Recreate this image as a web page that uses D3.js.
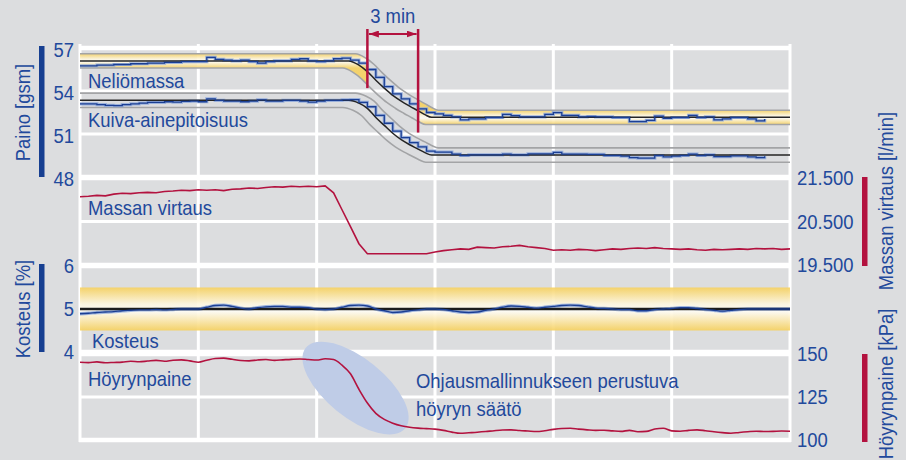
<!DOCTYPE html>
<html>
<head>
<meta charset="utf-8">
<script src="https://cdn.jsdelivr.net/npm/d3@7"></script>
<style>
  body { margin: 0; background: #dcdddf; }
  svg { display: block; }
  text { font-family: "Liberation Sans", Arial, sans-serif; }
</style>
</head>
<body>
<svg id="chart" width="906" height="460"></svg>
<script>
/// DATA ///
// sample times in minutes, one every half minute
var sampleMinutes = d3.range(0, 42.5, 0.5);

// Neliömassa (gsm), measured, t = 0 .. 40.5
var neliomassa = [55.75,55.75,55.8,55.8,55.85,55.85,55.9,55.9,55.95,55.95,56.0,56.0,56.05,56.05,
  56.05,56.35,56.2,56.15,56.1,56.15,56.05,55.95,56.05,56.1,56.1,56.2,56.25,56.1,56.05,56.1,56.25,56.3,
  56.15,55.95,55.5,54.95,54.3,53.8,53.45,53.1,52.75,52.5,52.4,
  52.3,52.2,51.98,52.05,52.05,52.15,52.15,52.37,52.28,52.2,52.2,52.2,52.37,52.49,52.3,52.3,52.2,52.22,
  52.2,52.2,52.15,52.15,51.86,51.86,51.95,52.25,52.1,52.15,52.15,52.3,52.15,52.2,51.98,52.05,52.15,
  52.15,52.05,51.92,52.05];

// Kuiva-ainepitoisuus (gsm), measured, t = 0 .. 40.5
var kuiva = [53.1,53.1,53.05,53.0,52.98,53.05,53.1,53.15,53.2,53.2,53.25,53.22,53.28,53.3,53.25,53.45,
  53.35,53.3,53.3,53.25,53.3,53.38,53.3,53.3,53.35,53.35,53.3,53.22,53.3,53.35,53.35,53.38,
  53.4,53.2,52.9,52.3,51.75,51.2,50.75,50.4,50.1,49.8,49.74,
  49.74,49.6,49.5,49.55,49.55,49.55,49.55,49.6,49.55,49.55,49.62,49.62,49.62,49.72,49.6,49.6,49.6,
  49.58,49.58,49.5,49.5,49.45,49.35,49.32,49.32,49.5,49.4,49.45,49.5,49.6,49.5,49.55,49.42,49.42,
  49.48,49.48,49.4,49.35,49.45];

// target curves (black lines)
var targetMinutes = [0, 15.9, 16.5, 17, 17.5, 18, 18.5, 19, 19.5, 20, 20.4, 20.8, 42];
var neliomassaTarget = [56.1, 56.1, 55.8, 55.35, 54.75, 54.2, 53.7, 53.3, 52.95, 52.62, 52.35, 52.16, 52.16];
var kuivaTarget = [53.35, 53.35, 53.15, 52.79, 52.15, 51.6, 51.05, 50.6, 50.25, 49.95, 49.7, 49.53, 49.53];
var tolerance = 0.5;             // gsm, half width of the band
var envelopeLag = [0.4, -0.35];  // minutes, upper / lower envelope shift

// Massan virtaus (l/min), t = 0 .. 42
var virtaus = [21070,21080,21100,21090,21130,21150,21140,21160,21170,21160,21190,21200,21220,21210,
  21230,21220,21230,21210,21240,21250,21270,21260,21280,21300,21290,21310,21300,21310,21300,21320,
  21160,20770,20380,19990,19760,19760,19760,19760,19760,19760,19760,19760,
  19800,19830,19850,19870,19860,19910,19900,19890,19920,19930,19950,19920,19900,19880,19840,19850,
  19840,19860,19850,19830,19850,19870,19860,19880,19890,19880,19900,19880,19870,19860,19870,19850,
  19840,19860,19850,19860,19870,19860,19880,19870,19880,19860,19870];

// Kosteus (%), t = 0 .. 42
var kosteus = [4.89,4.90,4.92,4.93,4.94,4.96,4.97,4.98,4.98,4.99,4.98,4.99,5.00,5.00,5.00,5.04,5.08,
  5.09,5.06,5.02,5.00,5.03,5.05,5.06,5.06,5.04,5.04,5.03,5.00,4.99,5.00,5.04,5.08,5.09,5.07,5.00,
  4.96,4.92,4.93,4.96,4.98,5.00,5.00,4.99,4.96,4.93,4.92,4.93,4.97,5.00,5.04,5.07,5.06,5.04,5.02,
  5.04,5.06,5.08,5.09,5.08,5.05,5.02,5.01,5.00,4.99,4.99,4.96,4.96,4.99,5.00,5.01,5.03,5.03,5.01,
  4.99,4.97,4.95,4.97,4.99,5.00,5.00,5.00,5.00,5.00,5.00];
var kosteusTarget = 5;
var kosteusTolerance = 0.5;

// Höyrynpaine (kPa), t = 0 .. 42
var paine = [145.2,145.0,145.4,144.9,145.1,145.3,145.8,145.5,145.9,146.3,145.8,146.4,146.6,146.0,
  145.2,146.4,147.4,147.6,146.9,146.2,146.0,146.5,146.8,146.3,146.6,146.9,147.1,146.8,146.5,147.2,
  146.8,143.5,138.5,129.5,121.5,115.5,112.0,109.8,108.3,107.4,106.9,106.6,106.3,105.6,104.6,103.9,
  104.2,104.5,104.9,105.4,105.8,105.9,105.5,105.2,104.9,105.4,106.2,106.7,106.8,106.3,105.9,105.6,
  105.7,105.3,105.0,105.6,104.8,105.0,106.4,106.8,105.3,105.1,105.6,105.9,105.4,104.8,104.3,103.9,
  104.4,104.8,105.1,104.9,105.0,105.2,105.1];

// ticks
var timeTicks = [0, 7, 14, 21, 28, 35, 42];
var painoTicks = [48, 51, 54, 57];
var virtausTicks = [19500, 20500, 21500];
var kosteusTicks = [4, 5, 6];
var paineTicks = [100, 125, 150];

// annotations
var stepWindow = [17, 20];           // "3 min"
var stepMarkerEnds = [54.2, 51.1];   // gsm where the marker lines stop
var steamNote = { minute: 16.3, kPa: 130.2 };

/// SETUP ///
var BLUE = "#22499c";
var BAR_BLUE = "#173f91";
var RED = "#b3123f";
var LINE_BLUE = "#1b3f94";
var HALO_BLUE = "#8ea8da";
var GOLD = "#f6d160";

var svg = d3.select("#chart");
var fi = d3.formatLocale({ decimal: ",", thousands: ".", grouping: [3], currency: ["", ""] });

var x = d3.scaleLinear().domain([0, 42]).range([80, 790]);
var yPaino = d3.scaleLinear().domain([48, 57]).range([177, 48]);
var yVirtaus = d3.scaleLinear().domain([19500, 21500]).range([265, 178]);
var yKosteus = d3.scaleLinear().domain([4, 6]).range([352, 266]);
var yPaine = d3.scaleLinear().domain([100, 150]).range([440, 354]);

var defs = svg.append("defs");

// vertical gradient: gold - white - gold
function bandGradient(id, y1, y2) {
  var g = defs.append("linearGradient").attr("id", id)
    .attr("gradientUnits", "userSpaceOnUse")
    .attr("x1", 0).attr("x2", 0).attr("y1", y1).attr("y2", y2);
  g.append("stop").attr("offset", "0%").attr("stop-color", GOLD);
  g.append("stop").attr("offset", "38%").attr("stop-color", "#fdf6df");
  g.append("stop").attr("offset", "55%").attr("stop-color", "#fffdf6");
  g.append("stop").attr("offset", "100%").attr("stop-color", GOLD);
}
var last = neliomassaTarget.length - 1;
bandGradient("bandBefore", yPaino(neliomassaTarget[0] + tolerance), yPaino(neliomassaTarget[0] - tolerance));
bandGradient("bandAfter", yPaino(neliomassaTarget[last] + tolerance), yPaino(neliomassaTarget[last] - tolerance));
bandGradient("bandKosteus", yKosteus(kosteusTarget + kosteusTolerance), yKosteus(kosteusTarget - kosteusTolerance));

// clips for the gold band: steady state only
function clipRect(id, t0, t1) {
  defs.append("clipPath").attr("id", id).append("rect")
    .attr("x", x(t0)).attr("width", x(t1) - x(t0))
    .attr("y", yPaino(57)).attr("height", yPaino(48) - yPaino(57));
}
clipRect("bandBeforeClip", 0, stepWindow[0]);
clipRect("bandAfterClip", stepWindow[1], 42);
clipRect("plotClip", 0, 42);

var arrow = defs.append("marker").attr("id", "arrow")
  .attr("viewBox", "0 0 10 7").attr("refX", 10).attr("refY", 3.5)
  .attr("markerWidth", 10).attr("markerHeight", 7)
  .attr("markerUnits", "userSpaceOnUse").attr("orient", "auto-start-reverse");
arrow.append("path").attr("d", "M0,0L10,3.5L0,7Z").attr("fill", RED);

/// GRID ///
var grid = svg.append("g").attr("class", "grid");
grid.selectAll(".vgrid").data(timeTicks).enter().append("line")
  .attr("x1", function (d) { return x(d); }).attr("x2", function (d) { return x(d); })
  .attr("y1", yPaino(57) - 4).attr("y2", yPaine(100) + 2)
  .attr("stroke", "#fff").attr("stroke-width", 3);

function hGrid(scale, ticks) {
  var ends = d3.extent(ticks);
  grid.selectAll(null).data(ticks).enter().append("line")
    .attr("x1", x(0) - 1).attr("x2", x(42) + 1)
    .attr("y1", function (d) { return scale(d); }).attr("y2", function (d) { return scale(d); })
    .attr("stroke", "#fff")
    .attr("stroke-width", function (d) { return d == ends[0] || d == ends[1] ? 4.5 : 3; });
}
hGrid(yPaino, painoTicks);
hGrid(yVirtaus, virtausTicks);
hGrid(yKosteus, kosteusTicks);
hGrid(yPaine, paineTicks);

/// PANEL 1: Paino ///
var p1 = svg.append("g").attr("clip-path", "url(#plotClip)");

function shifted(values, lag, offset) {
  return targetMinutes.map(function (t, i) {
    var tt = (i == 0 || i == targetMinutes.length - 1) ? t : t + lag;
    return [tt, values[i] + offset];
  });
}
var smooth = d3.line()
  .x(function (d) { return x(d[0]); })
  .y(function (d) { return yPaino(d[1]); })
  .curve(d3.curveMonotoneX);

var nUpper = shifted(neliomassaTarget, envelopeLag[0], tolerance);
var nLower = shifted(neliomassaTarget, envelopeLag[1], -tolerance);
var kUpper = shifted(kuivaTarget, envelopeLag[0], tolerance);
var kLower = shifted(kuivaTarget, envelopeLag[1], -tolerance);

// gold band between the envelopes, steady state only
var bandPath = smooth(nUpper) + "L" + smooth(nLower.slice().reverse()).slice(1) + "Z";
p1.append("path").attr("d", bandPath).attr("fill", "url(#bandBefore)")
  .attr("clip-path", "url(#bandBeforeClip)").attr("opacity", 0.9);
p1.append("path").attr("d", bandPath).attr("fill", "url(#bandAfter)")
  .attr("clip-path", "url(#bandAfterClip)").attr("opacity", 0.9);

[nUpper, nLower, kUpper, kLower].forEach(function (env) {
  p1.append("path").attr("d", smooth(env)).attr("fill", "none")
    .attr("stroke", "#a3a4a6").attr("stroke-width", 1.6);
});

var measured = d3.line()
  .x(function (d, i) { return x(sampleMinutes[i]); })
  .y(function (d) { return yPaino(d); })
  .curve(d3.curveStepAfter);

[neliomassa, kuiva].forEach(function (series) {
  p1.append("path").attr("d", measured(series)).attr("fill", "none")
    .attr("stroke", HALO_BLUE).attr("stroke-width", 3.2).attr("opacity", 0.85);
});
[neliomassaTarget, kuivaTarget].forEach(function (target) {
  p1.append("path").attr("d", smooth(targetMinutes.map(function (t, i) { return [t, target[i]]; })))
    .attr("fill", "none").attr("stroke", "#252525").attr("stroke-width", 1.5);
});
[neliomassa, kuiva].forEach(function (series) {
  p1.append("path").attr("d", measured(series)).attr("fill", "none")
    .attr("stroke", LINE_BLUE).attr("stroke-width", 1.3);
});

/// PANEL 2: Massan virtaus ///
var virtausLine = d3.line()
  .x(function (d, i) { return x(sampleMinutes[i]); })
  .y(function (d) { return yVirtaus(d); });
svg.append("path").attr("d", virtausLine(virtaus)).attr("fill", "none")
  .attr("stroke", RED).attr("stroke-width", 1.6);

/// PANEL 3: Kosteus ///
svg.append("rect")
  .attr("x", x(0)).attr("width", x(42) - x(0))
  .attr("y", yKosteus(kosteusTarget + kosteusTolerance))
  .attr("height", yKosteus(kosteusTarget - kosteusTolerance) - yKosteus(kosteusTarget + kosteusTolerance))
  .attr("fill", "url(#bandKosteus)").attr("opacity", 0.92);

var kosteusLine = d3.line()
  .x(function (d, i) { return x(sampleMinutes[i]); })
  .y(function (d) { return yKosteus(d); })
  .curve(d3.curveMonotoneX);
svg.append("path").attr("d", kosteusLine(kosteus)).attr("fill", "none")
  .attr("stroke", HALO_BLUE).attr("stroke-width", 3.5).attr("opacity", 0.85);
svg.append("line")
  .attr("x1", x(0)).attr("x2", x(42))
  .attr("y1", yKosteus(kosteusTarget)).attr("y2", yKosteus(kosteusTarget))
  .attr("stroke", "#1c1c1c").attr("stroke-width", 2.4);
svg.append("path").attr("d", kosteusLine(kosteus)).attr("fill", "none")
  .attr("stroke", LINE_BLUE).attr("stroke-width", 1.4);

/// PANEL 4: Höyrynpaine ///
svg.append("ellipse")
  .attr("transform", "translate(" + x(steamNote.minute) + "," + yPaine(steamNote.kPa) + ") rotate(39)")
  .attr("rx", 64).attr("ry", 29.5)
  .attr("fill", "#bfcce7");

var paineLine = d3.line()
  .x(function (d, i) { return x(sampleMinutes[i]); })
  .y(function (d) { return yPaine(d); })
  .curve(d3.curveMonotoneX);
svg.append("path").attr("d", paineLine(paine)).attr("fill", "none")
  .attr("stroke", RED).attr("stroke-width", 1.6);

/// 3 MIN MARKER ///
svg.append("line")
  .attr("x1", x(stepWindow[0])).attr("x2", x(stepWindow[0]))
  .attr("y1", 29).attr("y2", yPaino(stepMarkerEnds[0]))
  .attr("stroke", RED).attr("stroke-width", 2.5);
svg.append("line")
  .attr("x1", x(stepWindow[1])).attr("x2", x(stepWindow[1]))
  .attr("y1", 29).attr("y2", yPaino(stepMarkerEnds[1]))
  .attr("stroke", RED).attr("stroke-width", 2.5);
svg.append("line")
  .attr("x1", x(stepWindow[0]) + 1.5).attr("x2", x(stepWindow[1]) - 1.5)
  .attr("y1", 34).attr("y2", 34)
  .attr("stroke", RED).attr("stroke-width", 2)
  .attr("marker-start", "url(#arrow)").attr("marker-end", "url(#arrow)");

/// TEXT ///
var SQUEEZE = 0.9;
function addText(px, py, str, anchor, angle, color) {
  return svg.append("text")
    .attr("transform", "translate(" + px + "," + py + ") rotate(" + (angle || 0) + ") scale(" + SQUEEZE + ",1)")
    .attr("text-anchor", anchor || "start")
    .style("font-size", "20.5px")
    .style("fill", color || BLUE)
    .text(str);
}

// axes
function styleAxis(g, pad) {
  g.select(".domain").remove();
  g.selectAll(".tick line").remove();
  g.selectAll(".tick text")
    .attr("x", pad / SQUEEZE)
    .attr("transform", "scale(" + SQUEEZE + ",1)")
    .style("font-size", "20.5px")
    .style("font-family", '"Liberation Sans", Arial, sans-serif')
    .style("fill", BLUE);
}
svg.append("g").attr("transform", "translate(" + x(0) + ",2)")
  .call(d3.axisLeft(yPaino).tickValues(painoTicks).tickSize(0))
  .call(styleAxis, -6);
svg.append("g").attr("transform", "translate(" + x(0) + ",0)")
  .call(d3.axisLeft(yKosteus).tickValues(kosteusTicks).tickSize(0).tickFormat(d3.format("d")))
  .call(styleAxis, -6);
svg.append("g").attr("transform", "translate(" + x(42) + ",0)")
  .call(d3.axisRight(yVirtaus).tickValues(virtausTicks).tickSize(0).tickFormat(fi.format(",.0f")))
  .call(styleAxis, 7);
svg.append("g").attr("transform", "translate(" + x(42) + ",0)")
  .call(d3.axisRight(yPaine).tickValues(paineTicks).tickSize(0).tickFormat(d3.format("d")))
  .call(styleAxis, 7);

// axis bars
svg.append("rect").attr("x", 39).attr("width", 5.5)
  .attr("y", yPaino(57) - 2).attr("height", yPaino(48) - yPaino(57) + 2).attr("fill", BAR_BLUE);
svg.append("rect").attr("x", 39).attr("width", 5.5)
  .attr("y", yKosteus(6) - 2).attr("height", yKosteus(4) - yKosteus(6) + 2).attr("fill", BAR_BLUE);
svg.append("rect").attr("x", 862).attr("width", 5.5)
  .attr("y", yVirtaus(21500) - 1).attr("height", yVirtaus(19500) - yVirtaus(21500) + 2).attr("fill", RED);
svg.append("rect").attr("x", 862).attr("width", 5.5)
  .attr("y", yPaine(150)).attr("height", yPaine(100) - yPaine(150) + 2).attr("fill", RED);

// axis titles
addText(30, (yPaino(57) + yPaino(48)) / 2, "Paino [gsm]", "middle", -90);
addText(30, (yKosteus(6) + yKosteus(4)) / 2, "Kosteus [%]", "middle", -90);
addText(893, 201, "Massan virtaus [l/min]", "middle", -90);
addText(893, 384, "Höyrynpaine [kPa]", "middle", -90);

// series labels
addText(88, 88, "Neliömassa");
addText(88, 127, "Kuiva-ainepitoisuus");
addText(88, 215, "Massan virtaus");
addText(92, 348, "Kosteus");
addText(88, 386, "Höyrynpaine");
addText(416, 388, "Ohjausmallinnukseen perustuva");
addText(416, 416, "höyryn säätö");
addText((x(stepWindow[0]) + x(stepWindow[1])) / 2, 23, "3 min", "middle");
</script>
</body>
</html>
